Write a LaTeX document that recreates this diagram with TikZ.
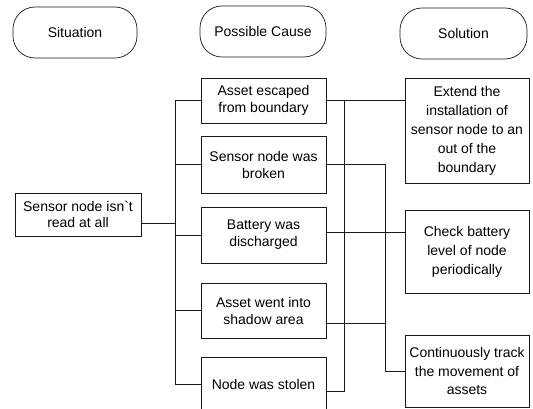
\documentclass[tikz,border=0pt]{standalone}
\usepackage{fontspec}
\setmainfont{Liberation Sans}
\usetikzlibrary{positioning}
\definecolor{fcLine}{RGB}{25,25,25}
\tikzset{
    base/.style={font=\fontsize{14}{17}\selectfont, align=center, text=black},
    terminal/.style={base, rectangle, rounded corners=22pt, draw=fcLine,
                     line width=0.7pt, minimum height=51pt},
    cause/.style={base, rectangle, draw=fcLine, line width=0.7pt,
                  minimum width=125pt, inner sep=2pt},
    remedy/.style={base, font=\fontsize{14}{19}\selectfont, rectangle, draw=fcLine,
                   line width=0.7pt, minimum width=124pt, inner sep=2pt},
    link/.style={draw=fcLine, line width=0.7pt}
}

\begin{document}
\begin{tikzpicture}[x=1pt, y=-1pt]
  \useasboundingbox (0,0) rectangle (533,409);

  % Headings
  \node[terminal, minimum width=124pt] (hSit) at (75,32.5) {Situation};
  \node[terminal, minimum width=126pt] (hCause) at (263,31.5) {Possible Cause};
  \node[terminal, minimum width=127pt] (hSol) at (463.5,33.5) {Solution};

  % Nodes
  \node[cause, font=\fontsize{14}{16}\selectfont, minimum width=126pt, minimum height=43pt]
       (sit) at (78,214.5) {Sensor node isn\textasciigrave t\\read at all};

  \node[cause, minimum height=45pt] (c1) at (263.5,100.5) {Asset escaped\\from boundary};
  \node[cause, minimum height=57pt] (c2) at (263.5,164.5) {Sensor node was\\broken};
  \node[cause, minimum height=56pt] (c3) at (263.5,235) {Battery was\\discharged};
  \node[cause, minimum height=55pt] (c4) at (263.5,310.5) {Asset went into\\shadow area};
  \node[cause, minimum height=55pt] (c5) at (263.5,384.5) {Node was stolen};

  \node[remedy, minimum height=105pt] (sol1) at (467,130.5)
       {Extend the\\installation of\\sensor node to an\\out of the\\boundary};
  \node[remedy, minimum height=83pt] (sol2) at (467,251.5)
       {Check battery\\level of node\\periodically};
  \node[remedy, font=\fontsize{14}{18.5}\selectfont, minimum height=72pt] (sol3) at (467,371)
       {Continuously track\\the movement of\\assets};

  % Bus lines
  \coordinate (busL) at (175,0);
  \coordinate (busA) at (344,0);
  \coordinate (busB) at (385,0);

  % Edges
  \draw[link] ([yshift=-8.5pt]sit.east) -- ([yshift=-8.5pt]sit.east -| busL);
  \draw[link] (c1.west) -- (c1.west -| busL) -- (c5.west -| busL) -- (c5.west);
  \foreach \c in {c2,c3,c4}
    \draw[link] (\c.west) -- (\c.west -| busL);

  \draw[link] (c1.east) -- (c1.east -| sol1.west);
  \draw[link] (c1.east -| busA) -- ([yshift=-7pt]c5.east -| busA) -- ([yshift=-7pt]c5.east);

  \draw[link] (c2.east) -- (c2.east -| busB) -- (sol3.west -| busB) -- (sol3.west);
  \draw[link] ([yshift=-12.5pt]c4.east) -- ([yshift=-12.5pt]c4.east -| busB);

  \draw[link] ([yshift=2.5pt]c3.east) -- ([yshift=2.5pt]c3.east -| sol2.west);
\end{tikzpicture}
\end{document}
